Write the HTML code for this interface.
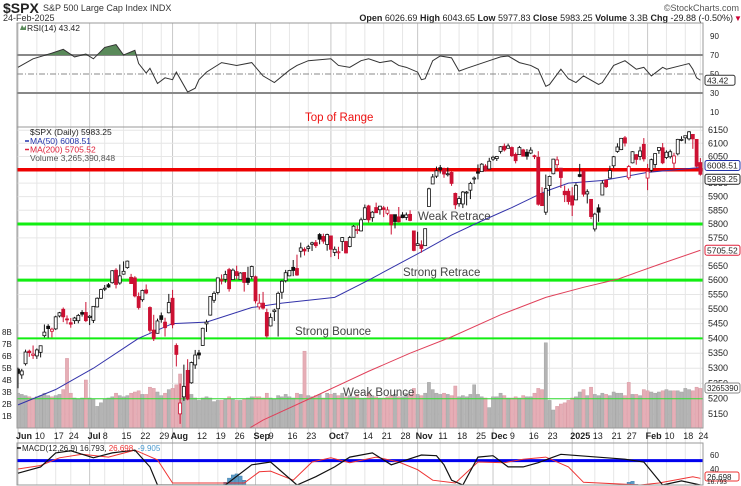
<!DOCTYPE html>
<html><head><meta charset="utf-8"><style>
html,body{margin:0;padding:0;background:#fff;width:741px;height:486px;overflow:hidden}
svg{display:block;font-family:"Liberation Sans",sans-serif;overflow:hidden}
</style></head><body>
<svg id="chart" width="741" height="486" viewBox="0 0 741 486" xmlns="http://www.w3.org/2000/svg">
<text x="3" y="13" font-size="14" font-weight="bold" fill="#222">$SPX</text>
<text x="43" y="11" font-size="9" fill="#333">S&amp;P 500 Large Cap Index INDX</text>
<text x="3" y="21" font-size="9" fill="#333">24-Feb-2025</text>
<text x="739" y="11" font-size="9" fill="#555" text-anchor="end">©StockCharts.com</text>
<text x="733" y="21" font-size="9" fill="#222" text-anchor="end"><tspan font-weight="bold">Open</tspan> 6026.69 <tspan font-weight="bold">High</tspan> 6043.65 <tspan font-weight="bold">Low</tspan> 5977.83 <tspan font-weight="bold">Close</tspan> 5983.25 <tspan font-weight="bold">Volume</tspan> 3.3B <tspan font-weight="bold">Chg</tspan> -29.88 (-0.50%)</text>
<text x="734" y="21" font-size="8" fill="#c03">▼</text>
<g id="grid"></g>
<g id="rsi"></g>
<g id="price"></g>
<g id="macd"></g>
<g id="axes"></g>
</svg>
<script>
const NS="http://www.w3.org/2000/svg";
const closes=[5283,5291,5354,5352,5347,5361,5375,5421,5433,5431,5473,5487,5473,5464,5448,5469,5478,5482,5460,
5475,5509,5537,5567,5572,5576,5633,5585,5615,5631,5667,5588,5545,5505,5564,5555,5427,5399,5459,5464,5436,5522,
5446,5346,5186,5240,5199,5319,5344,5344,5434,5455,5543,5554,5608,5597,5620,5570,5635,5616,5625,5592,5592,5648,
5528,5520,5503,5408,5471,5496,5554,5596,5626,5634,5634,5618,5714,5703,5718,5732,5722,5745,5738,5762,
5709,5709,5700,5751,5696,5751,5792,5780,5815,5859,5815,5843,5841,5865,5853,5851,5797,5809,5808,5823,5833,5813,5705,
5729,5712,5783,5929,5973,5996,6001,5984,5985,5949,5870,5893,5917,5917,5949,5969,5987,6021,5999,6032,
6047,6050,6087,6075,6090,6053,6034,6084,6051,6051,6074,6051,5872,5867,5930,5975,6040,6037,5971,5907,5882,
5869,5942,5975,5909,5918,5827,5836,5843,5950,5937,5997,6049,6086,6119,6101,6012,6068,6039,6071,6041,
5994,6038,6061,6084,6026,6066,6068,6052,6115,6115,6129,6144,6117,6013,5983];
const opens=[5297,5278,5315,5357,5343,5341,5353,5409,5441,5424,5432,5476,5499,5466,5453,5460,5460,5488,5488,
5471,5461,5507,5537,5572,5584,5591,5635,5590,5621,5644,5610,5608,5543,5532,5566,5505,5428,5417,5477,5455,5487,
5537,5376,5151,5206,5293,5252,5311,5351,5376,5449,5479,5530,5557,5602,5603,5637,5602,5630,5602,5627,5607,5613,
5612,5507,5520,5488,5442,5491,5501,5558,5598,5615,5645,5641,5702,5709,5712,5727,5733,5762,5755,5726,
5757,5698,5698,5737,5737,5719,5752,5778,5775,5817,5866,5823,5860,5852,5859,5839,5834,5834,5826,5833,5824,5835,5775,
5723,5725,5722,5864,5947,5976,6008,5999,5985,5990,5912,5874,5873,5917,5924,5969,5992,5993,6014,6003,
6040,6042,6069,6089,6081,6084,6058,6057,6075,6066,6063,6053,6047,5912,5843,5941,5985,6019,6006,5920,5920,
5903,5888,5982,5994,5910,5890,5782,5859,5906,5961,5969,6015,6069,6076,6121,5970,6026,6057,6050,6096,
5969,5998,6020,6073,6083,6046,6049,6025,6060,6115,6121,6117,6134,6115,6027];
const highs=[5302,5298,5362,5362,5376,5366,5376,5447,5448,5436,5477,5490,5505,5478,5469,5473,5483,5496,5524,
5479,5510,5540,5570,5583,5590,5635,5642,5655,5666,5669,5622,5614,5557,5567,5585,5509,5480,5467,5488,5470,5552,
5566,5383,5250,5312,5330,5322,5361,5361,5436,5463,5544,5561,5609,5620,5633,5643,5641,5651,5628,5627,5647,5651,
5616,5552,5559,5501,5485,5501,5560,5600,5636,5636,5671,5690,5733,5716,5725,5736,5742,5767,5765,5765,
5757,5719,5718,5753,5739,5757,5796,5795,5823,5871,5870,5847,5878,5866,5866,5863,5834,5817,5862,5843,5842,5850,5775,
5772,5741,5783,5933,5984,6012,6018,6008,6009,5993,5915,5902,5921,5921,5955,5975,6020,6025,6021,6045,
6053,6052,6089,6099,6099,6088,6065,6090,6079,6078,6085,6057,6070,5935,5982,5978,6041,6050,6007,5941,5930,
5935,5950,6022,5999,5927,5891,5841,5872,5960,5964,6015,6052,6100,6119,6128,6018,6070,6059,6087,6120,
6022,6042,6062,6084,6101,6073,6076,6064,6117,6127,6129,6147,6134,6115,6044];
const lows=[5234,5265,5309,5338,5331,5331,5336,5403,5402,5403,5428,5471,5455,5448,5436,5449,5451,5474,5455,
5445,5452,5505,5535,5562,5573,5588,5571,5584,5619,5640,5587,5540,5498,5525,5551,5419,5391,5416,5453,5406,5485,
5434,5306,5119,5193,5195,5249,5298,5330,5375,5422,5477,5521,5550,5585,5591,5560,5601,5602,5602,5560,5583,5603,
5519,5498,5498,5402,5440,5459,5406,5535,5592,5614,5614,5615,5680,5687,5700,5703,5714,5727,5729,5704,
5681,5685,5674,5703,5694,5716,5751,5764,5773,5815,5805,5808,5840,5834,5825,5832,5762,5784,5806,5821,5814,5810,5702,
5723,5697,5722,5864,5947,5969,5986,5970,5975,5940,5854,5863,5858,5868,5891,5947,5964,5993,5993,6003,
6033,6033,6061,6069,6081,6048,6024,6057,6051,6038,6059,6040,5867,5866,5833,5903,5983,6003,5932,5880,5871,
5829,5889,5972,5900,5875,5818,5773,5808,5906,5932,5969,6006,6064,6074,6088,5962,6024,6019,6036,6031,
5924,5991,6007,6060,6021,6040,6042,6004,6054,6108,6099,6111,6079,6009,5978];
const volumes=[2.9,2.8,2.7,2.6,2.5,2.6,2.7,2.9,2.7,2.6,2.7,2.8,3.2,5.8,2.9,2.5,2.4,2.5,4.0,
2.5,2.4,1.8,2.1,2.4,2.5,2.6,2.9,2.7,2.6,2.7,2.9,3.0,3.1,2.8,2.8,3.4,3.3,3.0,2.7,2.9,3.2,
3.3,3.6,4.5,3.5,2.9,2.8,2.5,2.3,2.5,2.6,2.5,2.2,2.3,2.3,2.4,2.6,2.4,2.3,2.3,2.4,2.5,2.6,
2.6,2.6,2.5,2.9,2.5,2.4,2.7,2.6,2.8,2.6,2.5,2.9,2.8,6.4,2.7,2.6,2.7,2.8,2.5,2.9,
2.8,2.9,2.7,2.9,2.6,2.7,2.6,2.8,2.5,2.5,2.9,2.7,2.6,2.5,2.5,2.6,2.7,2.8,2.6,2.6,2.9,2.8,3.3,
2.8,2.7,2.9,3.8,3.2,2.9,2.8,2.9,2.8,2.7,3.5,2.6,2.7,2.6,2.8,3.6,2.8,2.6,2.5,1.7,
2.6,2.6,2.9,2.7,2.5,2.5,2.6,2.5,2.7,2.6,2.6,2.9,3.3,3.2,7.1,2.3,1.5,1.8,2.0,2.1,2.3,
2.5,2.6,3.0,3.2,2.7,3.4,2.8,2.7,2.9,2.8,2.7,3.0,2.9,2.9,2.7,3.8,2.8,2.8,2.7,3.2,
3.1,3.0,2.9,3.0,3.1,3.2,3.1,3.1,3.1,3.0,3.3,3.2,3.1,3.4,3.3];
const ma50Idx=[0,10,20,32,41,50,62,70,84,93,100,107,115,122,131,140,146,155,167,181];
const ma50Vals=[5180,5230,5300,5400,5450,5455,5505,5520,5540,5600,5650,5700,5760,5805,5860,5920,5950,5960,5990,6008.51];
const ma200Idx=[0,20,40,55,65,80,93,104,115,128,140,150,159,170,181];
const ma200Vals=[4820,4900,4990,5060,5131,5215,5290,5350,5405,5480,5540,5575,5603,5655,5705.52];
const rsiIdx=[0,4,9,12,15,18,20,23,26,28,31,32,34,35,37,39,41,42,45,47,48,50,54,58,62,65,68,72,74,77,83,85,88,91,93,96,99,101,103,106,107,108,110,112,115,117,119,125,128,130,133,136,138,140,141,144,146,148,150,154,155,158,161,164,166,168,171,172,176,178,179,180,181];
const rsiVals=[57,66,72,76,68,71,66,78,81,70,75,61,51,56,40,46,44,52,31,35,44,52,62,59,62,48,41,54,59,64,66,59,57,64,66,62,64,59,57,52,44,45,64,69,67,53,56,64,68,69,62,59,55,37,39,55,45,41,48,39,41,59,64,55,57,48,57,55,59,61,55,46,43.42];
const macdIdx=[0,6,10,14,20,25,31,35,37,41,55,62,67,74,79,84,88,94,99,103,107,111,113,115,118,122,126,130,134,138,142,144,161,166,171,176,181];
const macdVals=[34,43,63,66,56,63,67,43,10,-5,-5,46,50,10,29,43,57,63,46,53,60,59,46,24,10,57,59,43,43,49,57,61,54,50,5,23,16.8];
const sigIdx=[0,6,11,17,24,31,37,41,60,64,67,73,78,83,88,95,101,106,110,116,122,129,134,140,146,150,165,170,179,181];
const sigVals=[40,45,56,61,57,67,53,20,20,36,37,24,50,56,49,57,50,39,24,20,50,49,54,57,43,21,5,20,29,26.7];
const histIdx=[53,54,55,56,57,58,59,60,61,62,121,160,161,162,163,164,165];
const histVals=[6,10,14,18,21,22,20,16,11,6,2,4,10,14,15,12,8];
const tickIdx=[0,5,10,14,19,23,28,33,38,41,48,53,58,63,67,72,77,83,87,92,97,102,106,112,117,122,126,131,136,141,147,153,158,162,167,172,177,181];
const tickLabels=["Jun","10","17","24","Jul","8","15","22","29","Aug","12","19","26","Sep","9","16","23","Oct","7","14","21","28","Nov","11","18","25","Dec","9","16","23","2025","13","21","27","Feb","10","18","24"];
const priceTicks=[6150,6100,6050,5950,5900,5850,5800,5750,5650,5600,5550,5500,5450,5400,5350,5300,5250,5200,5150];
const volTicks=[1,2,3,4,5,6,7,8];
const rsiTicks=[90,70,50,30,10];
const macdTicks=[60,40];

const X0=18,DX=3.77,L=17,R=703;
const xS=i=>X0+i*DX;
const yP=p=>224-1600*Math.log(p/5800);
const yPc=p=>Math.max(127,Math.min(480,yP(p)));
const yV=v=>428-v*12;
const yR=v=>55+(70-v)*0.95;
const yM=v=>Math.max(443,Math.min(485,455+(60-v)*0.7));
const yH=h=>497-h*1.05;
function mk(parent,tag,attrs){const e=document.createElementNS(NS,tag);for(const k in attrs)e.setAttribute(k,attrs[k]);parent.appendChild(e);return e;}
const gGrid=document.getElementById('grid'),gR=document.getElementById('rsi'),gP=document.getElementById('price'),gM=document.getElementById('macd'),gA=document.getElementById('axes');
const svg=document.getElementById('chart');
const defs=mk(svg,'defs',{});
const cp=mk(defs,'clipPath',{id:'pclip'});mk(cp,'rect',{x:L,y:127,width:R-L,height:301});
const cm=mk(defs,'clipPath',{id:'mclip'});mk(cm,'rect',{x:L,y:443,width:R-L,height:42});
gP.setAttribute('clip-path','url(#pclip)');gM.setAttribute('clip-path','url(#mclip)');

tickIdx.forEach((t,k)=>{const isM=isNaN(+tickLabels[k])||tickLabels[k]==="2025";
 const ln=mk(gGrid,'line',{x1:xS(t),x2:xS(t),y1:23,y2:485,stroke:isM?'#c8c8c8':'#e6e6e6','stroke-width':1});
 
 const tx=mk(gA,'text',{x:xS(t)-2,y:439,'font-size':9,'font-weight':isM?'bold':'normal',fill:'#222'});
 tx.textContent=tickLabels[k];});
priceTicks.forEach(p=>{const ln=mk(gGrid,'line',{x1:L,x2:R,y1:yP(p),y2:yP(p),stroke:'#e6e6e6'});
 
 const tx=mk(gA,'text',{x:708,y:yP(p)+3,'font-size':9,fill:'#222'});
 tx.textContent=p;});
volTicks.forEach(v=>{const tx=mk(gA,'text',{x:2,y:yV(v)+3,'font-size':8,fill:'#222'});
 tx.textContent=v+'B';});
[[23,127],[127,428],[443,485]].forEach(([a,b])=>{const r=mk(gA,'rect',{x:L,y:a,width:R-L,height:b-a,fill:'none',stroke:'#999'});
 });

rsiTicks.forEach(v=>{const tx=mk(gA,'text',{x:710,y:yR(v)+3,'font-size':8,fill:'#222'});
 tx.textContent=v;});
[[70,'#888','none',2],[30,'#888','none',2],[50,'#888','6,2,1,2',1]].forEach(([v,c,d,w])=>{
 const ln=mk(gR,'line',{x1:L,x2:R,y1:yR(v),y2:yR(v),stroke:c,'stroke-width':w,'stroke-dasharray':d});
 });
const rpts=rsiIdx.map((t,k)=>[xS(t),yR(rsiVals[k])]);
const clipAbove=mk(defs,'clipPath',{id:'aboveclip'});mk(clipAbove,'rect',{x:L,y:0,width:R-L,height:yR(70)});
const fillPath=mk(gR,'path',{d:'M'+rpts.map(p=>p.join(',')).join('L')+`L${xS(rsiIdx[rsiIdx.length-1])},${yR(70)}L${xS(0)},${yR(70)}Z`,fill:'#5a8a5a',stroke:'none','clip-path':'url(#aboveclip)'});

const rl=mk(gR,'polyline',{points:rpts.map(p=>p.join(',')).join(' '),fill:'none',stroke:'#333','stroke-width':1});


volumes.forEach((v,i)=>{const down=i>0&&closes[i]<closes[i-1];
 const r=mk(gP,'rect',{x:xS(i)-1.6,y:yV(v),width:3.2,height:428-yV(v),fill:down?'#e6aeb6':'#b4b4b4',stroke:down?'#d99aa4':'#a4a4a4','stroke-width':0.5});
 });

[[6000,'#ee0000',3.5],[5800,'#11ee11',3],[5600,'#11ee11',3],[5400,'#11ee11',2],[5200,'#33dd33',1]].forEach(([p,c,w])=>{
 const ln=mk(gP,'line',{x1:L,x2:R,y1:yP(p),y2:yP(p),stroke:c,'stroke-width':w});
 });

const ma50=mk(gP,'polyline',{points:ma50Idx.map((t,k)=>xS(t)+','+yPc(ma50Vals[k])).join(' '),fill:'none',stroke:'#3333aa','stroke-width':1});

const ma200=mk(gP,'polyline',{points:ma200Idx.map((t,k)=>xS(t)+','+yPc(ma200Vals[k])).join(' '),fill:'none',stroke:'#e0405a','stroke-width':1});


closes.forEach((c,i)=>{const o=opens[i],down=i>0&&c<closes[i-1];const col=down?'#cc1133':'#111';
 const g=mk(gP,'g',{});
 mk(g,'line',{x1:xS(i),x2:xS(i),y1:yPc(highs[i]),y2:yPc(lows[i]),stroke:col,'stroke-width':1});
 const top=yPc(Math.max(o,c)),bot=yPc(Math.min(o,c));
 mk(g,'rect',{x:xS(i)-1.5,y:top,width:3,height:Math.max(1,bot-top),fill:c<o?col:'#fff',stroke:col,'stroke-width':0.8});});

[['Top of Range',305,121,'#ee1111','annotation-top-of-range'],['Weak Retrace',418,220,'#444','annotation-weak-retrace'],['Strong Retrace',403,276,'#444','annotation-strong-retrace'],['Strong Bounce',295,335,'#444','annotation-strong-bounce'],['Weak Bounce',343,396,'#444','annotation-weak-bounce']].forEach(([t,x,y,c,n])=>{
 const tx=mk(svg,'text',{x:x,y:y,'font-size':11.5,fill:c});tx.textContent=t;});

[['RSI(14) 43.42',27,31,'#222','rsi-legend'],['$SPX (Daily) 5983.25',30,135,'#222','price-legend'],['MA(50) 6008.51',30,144,'#2233aa','ma50-legend'],['MA(200) 5705.52',30,152.5,'#e0203a','ma200-legend'],['Volume 3,265,390,848',30,161,'#555','volume-legend']].forEach(([t,x,y,c,n])=>{
 const tx=mk(svg,'text',{x:x,y:y,'font-size':8.5,fill:c});tx.textContent=t;});
mk(svg,'line',{x1:25,x2:29,y1:141,y2:141,stroke:'#2233aa','stroke-width':1.5});
mk(svg,'line',{x1:25,x2:29,y1:149.5,y2:149.5,stroke:'#e0203a','stroke-width':1.5});
mk(svg,'path',{d:'M20,30 l2,-5 l2,3 l2,-3 l0,5z',fill:'#5a8a5a'});

[[6008.51,yP(6008.51)-2,'#2233aa'],[5983.25,yP(5983.25)+5,'#222'],[5705.52,yP(5705.52),'#e0203a']].forEach(([v,y,c])=>{
 const g=mk(svg,'g',{});
 mk(g,'rect',{x:705,y:y-5,width:35,height:10,fill:'#fff',stroke:c,rx:2});
 const tx=mk(g,'text',{x:707,y:y+3,'font-size':8.5,fill:'#222'});tx.textContent=v.toFixed(2);});
(function(){const g=mk(svg,'g',{});
 mk(g,'rect',{x:705,y:383,width:35,height:10,fill:'#fff',stroke:'#888',rx:2});
 const tx=mk(g,'text',{x:707,y:391,'font-size':8,fill:'#222'});tx.textContent='3265390';})();
(function(){const g=mk(svg,'g',{});
 mk(g,'rect',{x:705,y:yR(43.42)-5,width:30,height:10,fill:'#fff',stroke:'#333',rx:2});
 const tx=mk(g,'text',{x:707,y:yR(43.42)+3,'font-size':8.5,fill:'#222'});tx.textContent='43.42';})();

macdTicks.forEach(v=>{const tx=mk(gA,'text',{x:710,y:yM(v)+3,'font-size':8,fill:'#222'});
 tx.textContent=v;});
histVals.forEach((h,k)=>{const top=Math.min(yH(h),485);const r=mk(gM,'rect',{x:xS(histIdx[k])-1.7,y:top,width:3.4,height:Math.max(0,485-top),fill:'#5b9bc6',stroke:'#3a7aa8','stroke-width':0.4});
 });
const bl=mk(gM,'line',{x1:L,x2:R,y1:yM(52),y2:yM(52),stroke:'#0000ee','stroke-width':3});

const sg=mk(gM,'polyline',{points:sigIdx.map((t,k)=>xS(t)+','+yM(sigVals[k])).join(' '),fill:'none',stroke:'#ee3333','stroke-width':1});

const ml=mk(gM,'polyline',{points:macdIdx.map((t,k)=>xS(t)+','+yM(macdVals[k])).join(' '),fill:'none',stroke:'#111','stroke-width':1.2});

const mlg=mk(svg,'text',{x:22,y:451,'font-size':8,fill:'#222'});
mlg.innerHTML='MACD(12,26,9) 16.793, <tspan fill="#e33">26.698</tspan>, <tspan fill="#4a9ad0">-9.905</tspan>';
mk(svg,'line',{x1:17,x2:21,y1:448,y2:448,stroke:'#111','stroke-width':1.5});
(function(){const g=mk(svg,'g',{});
 mk(g,'rect',{x:705,y:472,width:34,height:9,fill:'#fff',stroke:'#e33',rx:2});
 const t1=mk(g,'text',{x:707,y:480,'font-size':8,fill:'#222'});t1.textContent='26.698';
 const t2=mk(g,'text',{x:707,y:484,'font-size':6.5,fill:'#222'});t2.textContent='16.793';})();
</script>
</body></html>
